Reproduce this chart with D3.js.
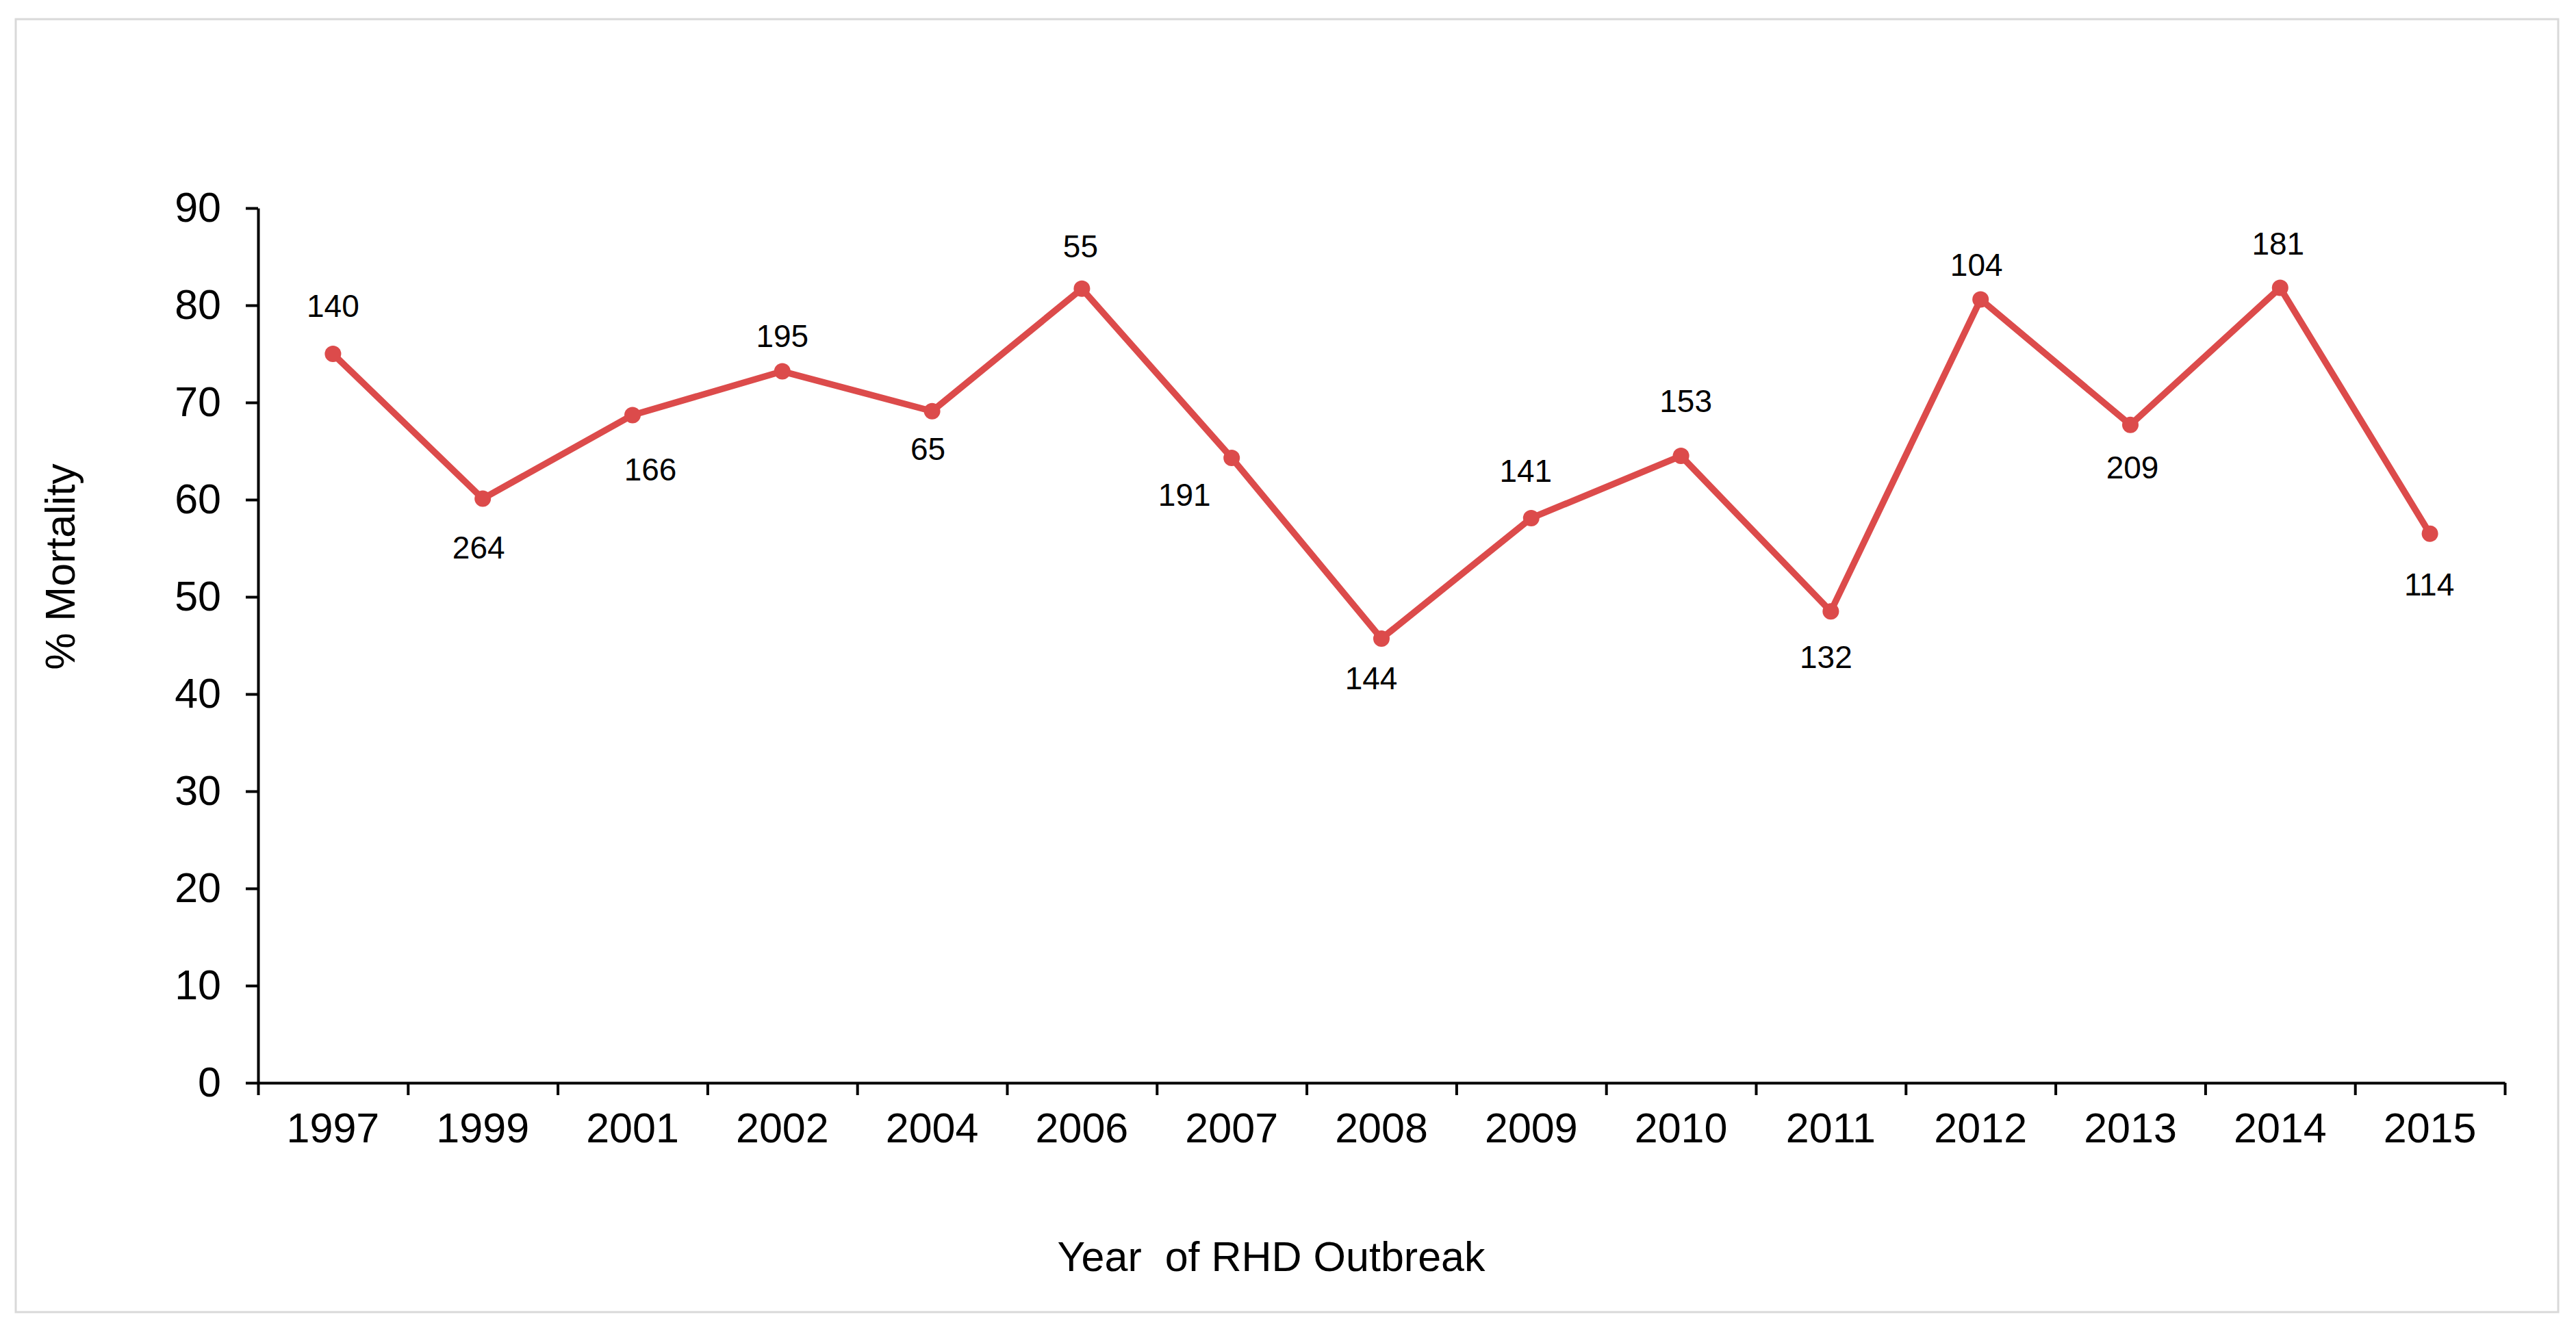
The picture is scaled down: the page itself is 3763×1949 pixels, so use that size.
<!DOCTYPE html>
<html>
<head>
<meta charset="utf-8">
<script src="https://cdn.jsdelivr.net/npm/d3@7"></script>
<style>
  body { margin: 0; background: #fff; }
  svg text { font-family: "Liberation Sans", Arial, sans-serif; fill: #000; }
</style>
</head>
<body>
<div id="chart"></div>
<script>
// data
var years = ["1997", "1999", "2001", "2002", "2004", "2006", "2007", "2008",
             "2009", "2010", "2011", "2012", "2013", "2014", "2015"];
var mortality = [75.0, 60.1, 68.7, 73.2, 69.1, 81.7, 64.3, 45.7,
                 58.1, 64.5, 48.5, 80.6, 67.7, 81.8, 56.5];
var outbreakSize = [140, 264, 166, 195, 65, 55, 191, 144,
                    141, 153, 132, 104, 209, 181, 114];
var yTicks = [0, 10, 20, 30, 40, 50, 60, 70, 80, 90];

// where each count label sits relative to its point (px)
var labelOffsets = [[0, -70], [-6, 71], [26, 79], [0, -52], [-6, 55], [-2, -62],
                    [-69, 54], [-15, 58], [-8, -69], [7, -80], [-7, 67], [-6, -51],
                    [3, 62], [-3, -65], [-1, 74]];

var W = 3763, H = 1949;
// plot area edges (note: "top" is reserved on window, so use other names)
var plotL = 377, plotR = 3659, plotT = 304, plotB = 1582;
var red = "#dc4b4b";

var svg = d3.select("#chart").append("svg")
    .attr("width", W)
    .attr("height", H);

svg.append("rect")
    .attr("x", 23).attr("y", 28)
    .attr("width", 3714).attr("height", 1889)
    .attr("fill", "#fff")
    .attr("stroke", "#d9d9d9")
    .attr("stroke-width", 3);

var x = d3.scaleBand().domain(years).range([plotL, plotR]).padding(0);
var y = d3.scaleLinear().domain([0, 90]).range([plotB, plotT]);
// boundaries between categories, for the x tick marks
var xb = d3.scaleLinear().domain([0, years.length]).range([plotL, plotR]);

// y axis
var yAxis = svg.append("g")
    .attr("transform", "translate(" + plotL + ",0)")
    .call(d3.axisLeft(y).tickValues(yTicks).tickSize(18).tickPadding(36).tickSizeOuter(0));
yAxis.selectAll("text").style("font-size", "61px");

// x axis: ticks at the boundaries, labels at band centres
var xAxis = svg.append("g")
    .attr("transform", "translate(0," + plotB + ")")
    .call(d3.axisBottom(xb).tickValues(d3.range(years.length + 1)).tickSize(18)
          .tickSizeOuter(0).tickFormat(""));

var xLabels = svg.append("g")
    .attr("transform", "translate(0," + plotB + ")")
    .call(d3.axisBottom(x).tickSize(0).tickPadding(44));
xLabels.select(".domain").remove();
xLabels.selectAll("text").style("font-size", "61px");

svg.selectAll(".domain, .tick line")
    .attr("stroke", "#000")
    .attr("stroke-width", 4);

// axis titles
svg.append("text")
    .attr("transform", "translate(88,828) rotate(-90)")
    .attr("text-anchor", "middle")
    .attr("dy", "0.35em")
    .style("font-size", "61px")
    .text("% Mortality");

svg.append("text")
    .attr("x", 1857).attr("y", 1836)
    .attr("text-anchor", "middle")
    .attr("dy", "0.35em")
    .style("font-size", "61px")
    .attr("xml:space", "preserve")
    .text("Year  of RHD Outbreak");

var pts = years.map(function(yr, i) {
  return { year: yr, v: mortality[i], n: outbreakSize[i], off: labelOffsets[i] };
});
var cx = function(d) { return x(d.year) + x.bandwidth() / 2; };

var line = d3.line()
    .x(cx)
    .y(function(d) { return y(d.v); });

svg.append("path")
    .datum(pts)
    .attr("d", line)
    .attr("fill", "none")
    .attr("stroke", red)
    .attr("stroke-width", 9.5)
    .attr("stroke-linejoin", "round");

svg.selectAll("circle.pt")
    .data(pts)
    .enter()
    .append("circle")
      .attr("class", "pt")
      .attr("cx", cx)
      .attr("cy", function(d) { return y(d.v); })
      .attr("r", 12)
      .attr("fill", red);

svg.selectAll("text.lbl")
    .data(pts)
    .enter()
    .append("text")
      .attr("class", "lbl")
      .attr("x", function(d) { return cx(d) + d.off[0]; })
      .attr("y", function(d) { return y(d.v) + d.off[1]; })
      .attr("dy", "0.35em")
      .attr("text-anchor", "middle")
      .style("font-size", "46px")
      .text(function(d) { return d.n; });
</script>
</body>
</html>
